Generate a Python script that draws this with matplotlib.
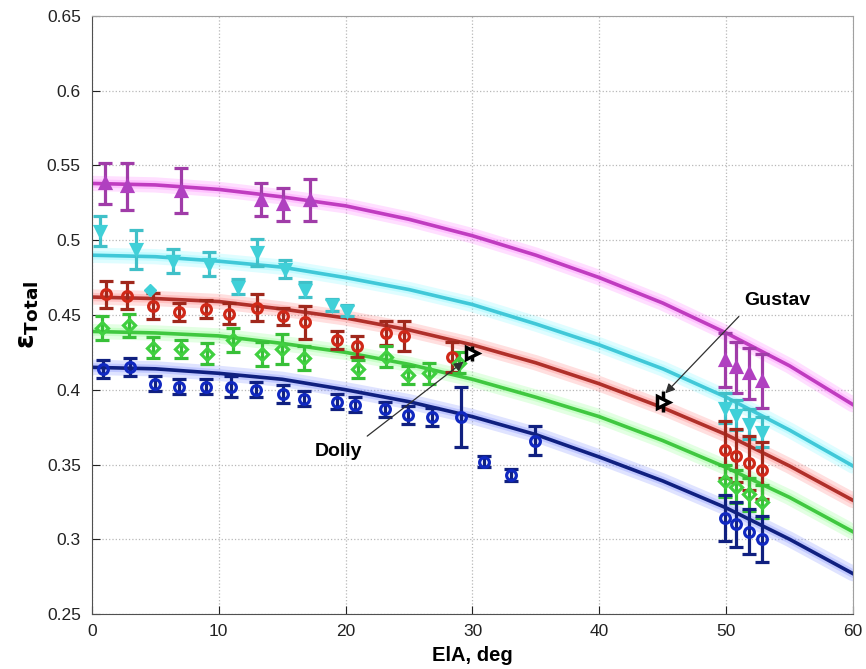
import numpy as np
import matplotlib
matplotlib.use('Agg')
import matplotlib.pyplot as plt

plt.rcParams['font.family'] = ['Liberation Sans', 'DejaVu Sans']

# fitted emissivity curves vs incidence angle
theta = [0, 5, 10, 15, 20, 25, 30, 35, 40, 45, 50, 55, 60]
fit_mag = [0.538, 0.537, 0.534, 0.529, 0.523, 0.514, 0.503, 0.490, 0.475, 0.458, 0.438, 0.416, 0.390]
fit_cyan = [0.490, 0.489, 0.486, 0.482, 0.475, 0.467, 0.457, 0.444, 0.430, 0.414, 0.395, 0.373, 0.349]
fit_red = [0.462, 0.461, 0.459, 0.454, 0.448, 0.440, 0.430, 0.418, 0.404, 0.388, 0.370, 0.349, 0.326]
fit_green = [0.439, 0.438, 0.436, 0.431, 0.425, 0.417, 0.407, 0.395, 0.382, 0.366, 0.348, 0.328, 0.305]
fit_blue = [0.415, 0.414, 0.411, 0.407, 0.400, 0.392, 0.382, 0.370, 0.355, 0.339, 0.321, 0.300, 0.277]

# measured points: angle, value, error
mag_x = [1.0, 2.8, 7.0, 13.3, 15.1, 17.2, 49.9, 50.8, 51.8, 52.8]
mag_y = [0.538, 0.536, 0.533, 0.527, 0.524, 0.527, 0.420, 0.415, 0.411, 0.406]
mag_e = [0.014, 0.016, 0.015, 0.011, 0.011, 0.014, 0.018, 0.017, 0.017, 0.018]

cyan_x = [0.6, 3.5, 6.4, 9.2, 11.5, 13.0, 15.2, 16.8, 18.9, 20.1, 49.9, 50.8, 51.8, 52.8]
cyan_y = [0.506, 0.494, 0.486, 0.484, 0.469, 0.492, 0.481, 0.467, 0.457, 0.453, 0.388, 0.383, 0.377, 0.372]
cyan_e = [0.010, 0.013, 0.008, 0.008, 0.005, 0.009, 0.006, 0.005, 0.004, 0.004, 0.010, 0.010, 0.010, 0.010]
cyan_extra_x = [4.6]
cyan_extra_y = [0.467]

red_x = [1.1, 2.8, 4.8, 6.9, 9.0, 10.8, 13.0, 15.1, 16.8, 19.3, 20.9, 23.2, 24.6, 28.4,
         49.9, 50.8, 51.8, 52.8]
red_y = [0.464, 0.463, 0.456, 0.452, 0.454, 0.451, 0.455, 0.449, 0.445, 0.433, 0.429, 0.438, 0.436, 0.422,
         0.360, 0.356, 0.351, 0.346]
red_e = [0.009, 0.009, 0.009, 0.006, 0.006, 0.007, 0.009, 0.006, 0.011, 0.006, 0.007, 0.008, 0.010, 0.010,
         0.019, 0.018, 0.018, 0.019]

green_x = [0.8, 2.9, 4.8, 7.0, 9.1, 11.1, 13.4, 15.0, 16.7, 21.0, 23.2, 24.9, 26.6, 28.9,
           49.9, 50.8, 51.8, 52.8]
green_y = [0.441, 0.443, 0.428, 0.427, 0.424, 0.433, 0.424, 0.427, 0.421, 0.414, 0.422, 0.410, 0.411, 0.418,
           0.339, 0.335, 0.330, 0.325]
green_e = [0.008, 0.008, 0.007, 0.006, 0.007, 0.008, 0.008, 0.010, 0.008, 0.006, 0.007, 0.006, 0.007, 0.007,
           0.011, 0.011, 0.011, 0.011]

blue_x = [0.9, 3.0, 5.0, 6.9, 9.0, 11.0, 12.9, 15.1, 16.7, 19.3, 20.7, 23.1, 24.9, 26.8, 29.1,
          30.9, 33.0, 34.9, 49.9, 50.8, 51.8, 52.8]
blue_y = [0.414, 0.415, 0.404, 0.402, 0.402, 0.402, 0.400, 0.397, 0.394, 0.392, 0.390, 0.387, 0.383, 0.382, 0.382,
          0.352, 0.343, 0.366, 0.314, 0.310, 0.305, 0.300]
blue_e = [0.006, 0.006, 0.005, 0.005, 0.005, 0.007, 0.005, 0.006, 0.005, 0.005, 0.005, 0.005, 0.006, 0.006, 0.020,
          0.004, 0.004, 0.0095, 0.0155, 0.015, 0.015, 0.0155]

# hurricane cases
storm_names = ['Dolly', 'Gustav']
storm_x = [30.0, 45.0]
storm_y = [0.4245, 0.392]
storm_e = [0.005, 0.007]
label_xy = [(19.4, 0.359), (54.0, 0.460)]
arrow_tail = [(21.7, 0.369), (51.0, 0.449)]
arrow_head = [(29.3, 0.4188), (45.2, 0.3976)]

fig = plt.figure(figsize=(8.66, 6.69), dpi=100)
ax = fig.add_axes([0.1062, 0.0822, 0.8788, 0.8939])

curves = [
    (fit_mag, '#c03cc0', '#ff80ff'),
    (fit_cyan, '#40c8d8', '#80f8ff'),
    (fit_red, '#b0302a', '#ff8080'),
    (fit_green, '#40c840', '#90ff90'),
    (fit_blue, '#102080', '#8090ff'),
]
for vals, col, glow in curves:
    ax.plot(theta, vals, color=glow, lw=11, alpha=0.25, solid_capstyle='round', zorder=2)
    ax.plot(theta, vals, color=glow, lw=6, alpha=0.3, solid_capstyle='round', zorder=2)
    ax.plot(theta, vals, color=col, lw=2.6, zorder=2.1)

series = [
    (mag_x, mag_y, mag_e, '^', '#b040c0', '#a03ca8', True),
    (cyan_x, cyan_y, cyan_e, 'v', '#40d0d8', '#40c0c8', True),
    (red_x, red_y, red_e, 'o', '#d02818', '#a0281c', False),
    (green_x, green_y, green_e, 'D', '#40d040', '#38c038', False),
    (blue_x, blue_y, blue_e, 'o', '#1028c0', '#102080', False),
]
for xs, ys, es, mk, mcol, ecol, filled in series:
    ax.errorbar(xs, ys, yerr=es, fmt=mk, color=ecol, ecolor=ecol, elinewidth=2.3,
                capsize=5, capthick=2.3, markersize=7 if mk != 'D' else 6,
                markeredgewidth=2.3, markeredgecolor=mcol,
                markerfacecolor=mcol if filled else 'none', zorder=3)

ax.plot(cyan_extra_x, cyan_extra_y, 'D', color='#40d0d8', markersize=6, zorder=3)

ax.errorbar(storm_x, storm_y, yerr=storm_e, fmt='>', color='black', elinewidth=2.5,
            capsize=0, markersize=8, markeredgewidth=2.5, markerfacecolor='white', zorder=5)

for name, txy, tail, head in zip(storm_names, label_xy, arrow_tail, arrow_head):
    ax.text(txy[0], txy[1], name, ha='center', va='center', fontsize=14, fontweight='bold')
    ax.annotate('', xy=head, xytext=tail,
                arrowprops=dict(arrowstyle='-|>', color='#303030', lw=0.9,
                                mutation_scale=14, shrinkA=0, shrinkB=0), zorder=6)

ax.set_xlim(0, 60)
ax.set_ylim(0.25, 0.65)
ax.set_xticks(np.arange(0, 61, 10))
ax.set_yticks(np.arange(0.25, 0.651, 0.05))
ax.set_yticklabels(['0.25', '0.3', '0.35', '0.4', '0.45', '0.5', '0.55', '0.6', '0.65'])
ax.grid(True, linestyle=':', color='#b8b8b8', linewidth=0.9)
ax.tick_params(direction='in', length=6, labelsize=12.5, colors='#222222', top=False, right=False)
ax.tick_params(axis='x', pad=7)
ax.tick_params(axis='y', pad=8)
for sp in ax.spines.values():
    sp.set_color('#a0a0a0')
ax.spines['left'].set_color('#505050')
ax.spines['bottom'].set_color('#505050')

ax.set_xlabel('ElA, deg', fontsize=14.5, fontweight='bold', labelpad=5)
ax.set_ylabel(r'$\mathbf{\epsilon}_{\mathbf{Total}}$', fontsize=19, labelpad=4)

fig.savefig('out.png', dpi=100)
